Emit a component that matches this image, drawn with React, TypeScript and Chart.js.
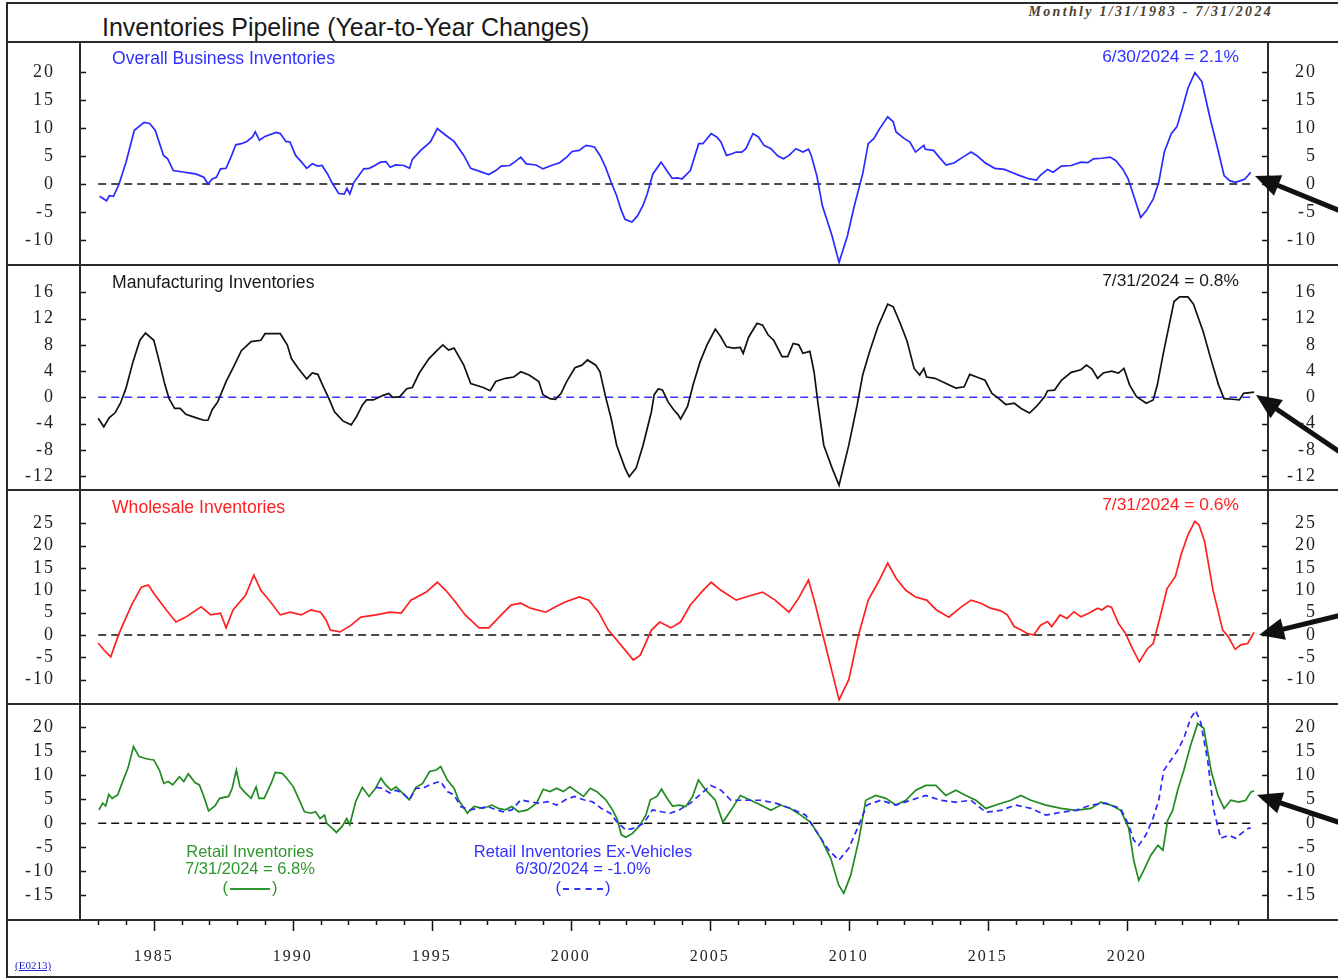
import React, { useEffect, useRef } from "react";
import { Chart, registerables } from "chart.js";
Chart.register(...registerables);

// ---------------- data (decimal year, % y/y) ----------------
const businessDates = [1983.05,1983.3,1983.4,1983.55,1983.75,1984.0,1984.3,1984.65,1984.85,1985.05,1985.35,1985.5,1985.7,1986.1,1986.25,1986.5,1986.8,1986.95,1987.1,1987.25,1987.4,1987.6,1987.8,1987.95,1988.15,1988.35,1988.55,1988.65,1988.8,1989.0,1989.4,1989.55,1989.75,1989.9,1990.1,1990.3,1990.5,1990.7,1990.9,1991.05,1991.25,1991.4,1991.65,1991.85,1991.95,1992.05,1992.2,1992.55,1992.75,1992.95,1993.15,1993.35,1993.5,1993.7,1994.0,1994.2,1994.3,1994.6,1994.95,1995.2,1995.5,1995.8,1996.15,1996.4,1996.75,1997.05,1997.3,1997.5,1997.8,1998.0,1998.2,1998.4,1998.75,1999.0,1999.3,1999.6,1999.85,2000.05,2000.3,2000.55,2000.85,2001.05,2001.25,2001.45,2001.65,2001.8,2001.95,2002.2,2002.4,2002.6,2002.75,2002.95,2003.25,2003.45,2003.65,2003.85,2004.0,2004.3,2004.6,2004.75,2005.05,2005.25,2005.4,2005.6,2005.8,2005.95,2006.15,2006.3,2006.55,2006.75,2006.95,2007.2,2007.45,2007.65,2007.85,2008.1,2008.35,2008.55,2008.65,2008.85,2009.05,2009.4,2009.65,2009.95,2010.2,2010.5,2010.7,2010.9,2011.1,2011.4,2011.6,2011.7,2012.0,2012.2,2012.4,2012.7,2012.75,2013.05,2013.25,2013.5,2013.8,2014.1,2014.4,2014.6,2014.9,2015.25,2015.6,2015.85,2016.15,2016.5,2016.75,2016.9,2017.15,2017.35,2017.65,2018.0,2018.35,2018.6,2018.8,2019.1,2019.4,2019.6,2019.85,2020.05,2020.25,2020.5,2020.7,2020.95,2021.15,2021.35,2021.6,2021.8,2022.0,2022.2,2022.45,2022.7,2023.0,2023.3,2023.5,2023.7,2023.9,2024.1,2024.25,2024.46];
const businessValues = [-2.2,-3.0,-2.1,-2.2,0,3.9,9.6,11.0,10.8,9.6,5.1,4.5,2.4,2.1,2.0,1.8,1.2,0,0.9,1.2,2.7,2.8,5.1,7.0,7.2,7.6,8.4,9.3,7.8,8.5,9.2,9.0,7.6,7.5,5.1,4.0,2.8,3.6,3.2,3.3,1.8,0.3,-1.7,-1.8,-0.8,-1.8,0.3,2.7,2.8,3.3,3.9,4.0,3.0,3.4,3.3,2.8,4.4,6.0,7.5,9.9,8.7,7.6,5.1,2.8,2.2,1.7,2.4,3.2,3.3,4.0,4.8,3.6,3.4,2.7,3.3,3.8,4.8,5.8,6.0,6.9,6.6,5.1,3.0,0.3,-2.1,-4.5,-6.3,-6.8,-5.7,-3.8,-1.8,1.8,3.9,2.4,1.0,1.1,0.9,2.4,7.2,7.2,9.0,8.4,7.5,5.1,5.4,5.7,5.7,6.3,9.0,8.4,6.9,6.3,5.0,4.5,5.1,6.3,5.7,6.2,5.1,1.5,-3.9,-9.3,-14.0,-9.3,-3.9,1.8,7.2,8.1,9.8,12.0,11.1,9.3,8.1,7.5,5.7,6.9,6.2,6.0,4.8,3.4,3.8,4.8,5.7,5.1,3.8,2.8,2.6,2.1,1.5,0.9,0.7,1.6,2.6,2.1,3.2,3.3,3.9,3.8,4.5,4.6,4.8,4.2,2.7,0.9,-2.1,-6.0,-4.8,-2.7,0.3,5.7,9.0,10.2,13.5,17.1,19.9,18.3,11.7,5.7,1.5,0.6,0.3,0.6,0.9,2.1];

const manufDates = [1983.0,1983.2,1983.4,1983.6,1983.8,1984.0,1984.25,1984.5,1984.7,1985.0,1985.2,1985.4,1985.55,1985.75,1985.95,1986.15,1986.5,1986.8,1986.95,1987.1,1987.3,1987.6,1987.9,1988.15,1988.5,1988.85,1989.0,1989.25,1989.55,1989.8,1989.95,1990.2,1990.5,1990.7,1990.9,1991.1,1991.3,1991.5,1991.8,1992.1,1992.3,1992.5,1992.65,1992.9,1993.25,1993.45,1993.6,1993.85,1994.1,1994.3,1994.55,1994.9,1995.2,1995.4,1995.6,1995.8,1996.15,1996.4,1996.85,1997.1,1997.3,1997.65,1997.95,1998.2,1998.5,1998.85,1999.0,1999.25,1999.45,1999.65,1999.85,2000.15,2000.4,2000.6,2000.9,2001.05,2001.25,2001.45,2001.65,2001.95,2002.1,2002.35,2002.6,2002.9,2003.0,2003.15,2003.3,2003.5,2003.7,2003.85,2003.95,2004.2,2004.4,2004.65,2004.9,2005.2,2005.4,2005.6,2005.85,2006.1,2006.2,2006.4,2006.7,2006.9,2007.1,2007.3,2007.6,2007.8,2008.0,2008.2,2008.35,2008.6,2008.75,2008.9,2009.1,2009.4,2009.65,2010.0,2010.3,2010.5,2010.75,2011.05,2011.4,2011.6,2011.85,2012.1,2012.35,2012.55,2012.7,2012.8,2013.1,2013.5,2013.85,2014.15,2014.35,2014.6,2014.9,2015.15,2015.4,2015.65,2015.95,2016.2,2016.5,2016.75,2017.05,2017.15,2017.4,2017.65,2018.0,2018.35,2018.55,2018.75,2018.95,2019.15,2019.45,2019.7,2019.9,2020.1,2020.35,2020.7,2020.95,2021.1,2021.3,2021.5,2021.7,2021.9,2022.2,2022.4,2022.75,2023.0,2023.3,2023.5,2023.8,2024.05,2024.2,2024.58];
const manufValues = [-3.2,-4.5,-3.1,-2.4,-0.9,1.4,5.4,8.7,9.8,8.7,5.4,1.9,-0.2,-1.7,-1.7,-2.6,-3.1,-3.5,-3.5,-1.9,-0.7,2.4,4.9,7.1,8.5,8.7,9.7,9.7,9.7,8.0,5.9,4.4,2.8,3.7,3.5,1.6,-0.2,-2.2,-3.6,-4.2,-2.9,-1.2,-0.4,-0.4,0.3,0.6,0,0.1,1.3,1.5,3.7,5.9,7.2,8.0,7.2,7.5,4.9,2.1,1.5,1.0,2.4,2.9,3.1,3.9,3.4,2.4,0.4,-0.2,-0.3,0.6,2.4,4.5,4.9,5.7,4.9,3.9,0.1,-3.2,-7.3,-10.8,-12.1,-10.8,-7.3,-2.2,0.4,1.3,1.1,-0.7,-1.9,-2.6,-3.3,-1.4,1.9,5.4,8.0,10.4,9.2,7.7,7.5,7.6,6.7,9.2,11.3,11.0,9.5,8.7,6.2,6.2,8.2,8.0,6.7,7.0,3.9,-1.2,-7.3,-10.8,-13.4,-7.3,-1.2,3.4,7.0,10.8,14.2,13.8,11.3,8.5,4.4,3.4,4.4,3.1,2.9,2.1,1.4,1.6,3.5,3.1,2.6,0.6,-0.2,-1.1,-0.9,-1.7,-2.4,-1.4,0.1,1.0,1.1,2.6,3.8,4.2,4.9,4.3,2.9,3.7,4.0,3.7,4.4,1.9,0.1,-0.9,-0.4,1.9,6.4,10.5,14.6,15.3,15.3,14.2,10.0,6.2,1.9,-0.2,-0.3,-0.4,0.6,0.8];

const wholesaleDates = [1983.0,1983.2,1983.45,1983.6,1983.8,1984.2,1984.55,1984.8,1985.05,1985.45,1985.8,1986.15,1986.7,1987.05,1987.4,1987.6,1987.85,1988.3,1988.6,1988.85,1989.2,1989.55,1989.9,1990.3,1990.65,1991.0,1991.2,1991.35,1991.7,1992.1,1992.45,1993.0,1993.5,1993.9,1994.25,1994.8,1995.2,1995.5,1995.85,1996.2,1996.7,1997.05,1997.5,1997.85,1998.2,1998.55,1999.1,1999.45,1999.8,2000.3,2000.65,2001.0,2001.35,2001.8,2002.25,2002.5,2002.9,2003.2,2003.6,2003.95,2004.3,2004.7,2005.05,2005.4,2005.95,2006.5,2006.9,2007.35,2007.85,2008.2,2008.55,2008.8,2009.2,2009.65,2010.0,2010.35,2010.7,2011.1,2011.4,2011.7,2012.05,2012.4,2012.8,2013.15,2013.6,2014.05,2014.4,2014.75,2015.1,2015.47,2015.7,2015.95,2016.2,2016.4,2016.65,2016.9,2017.15,2017.3,2017.6,2017.85,2018.1,2018.35,2018.65,2018.95,2019.1,2019.3,2019.45,2019.7,2019.95,2020.2,2020.45,2020.75,2020.95,2021.2,2021.45,2021.75,2021.95,2022.2,2022.45,2022.6,2022.8,2023.1,2023.45,2023.65,2023.9,2024.1,2024.35,2024.58];
const wholesaleValues = [-1.8,-3.3,-4.9,-2.2,1.1,6.7,10.7,11.2,8.9,5.6,2.9,4.0,6.3,4.5,4.9,1.6,5.6,8.9,13.4,10.0,7.4,4.5,5.1,4.5,5.6,5.1,3.3,1.1,0.7,2.2,4.0,4.5,5.1,4.9,7.8,9.6,11.8,10.0,7.4,4.5,1.6,1.6,4.5,6.7,7.1,6.0,5.1,6.3,7.4,8.5,7.8,5.1,1.1,-2.2,-5.6,-4.5,1.1,2.9,1.6,2.9,6.7,9.6,11.8,10.0,7.8,8.9,9.6,7.8,5.1,8.3,12.3,6.7,-3.3,-14.5,-10.0,0,7.8,12.3,16.1,12.7,10.0,8.5,7.8,5.6,4.0,6.3,7.8,7.1,6.0,5.4,4.5,1.9,1.1,0.4,0,2.2,3.0,1.9,4.5,3.7,5.2,4.1,4.9,6.0,5.6,6.5,6.2,2.6,0.4,-3.0,-6.0,-3.0,-1.9,4.1,10.4,13.1,17.9,22.4,25.4,24.6,20.9,10.1,1.1,-0.4,-3.2,-2.2,-1.9,0.6];

const retailDates = [1983.03,1983.16,1983.27,1983.38,1983.5,1983.7,1983.9,1984.07,1984.27,1984.47,1984.7,1984.88,1985.0,1985.2,1985.36,1985.52,1985.68,1985.92,1986.08,1986.24,1986.48,1986.64,1986.8,1986.97,1987.2,1987.37,1987.69,1987.82,1987.97,1988.1,1988.25,1988.5,1988.68,1988.78,1988.97,1989.22,1989.37,1989.62,1989.78,1990.02,1990.23,1990.42,1990.66,1990.82,1990.98,1991.14,1991.22,1991.41,1991.57,1991.78,1991.94,1992.05,1992.26,1992.5,1992.74,1992.98,1993.17,1993.34,1993.54,1993.71,1993.95,1994.19,1994.43,1994.67,1994.92,1995.16,1995.32,1995.56,1995.8,1995.96,1996.28,1996.52,1996.84,1997.16,1997.4,1997.64,1997.88,1998.12,1998.44,1998.77,1999.01,1999.25,1999.49,1999.73,1999.97,2000.21,2000.46,2000.7,2000.94,2001.26,2001.5,2001.66,2001.82,2001.98,2002.22,2002.46,2002.7,2002.86,2003.1,2003.26,2003.5,2003.66,2003.9,2004.14,2004.38,2004.59,2004.86,2005.2,2005.47,2005.76,2006.1,2006.47,2006.83,2007.2,2007.55,2007.9,2008.27,2008.63,2008.99,2009.35,2009.64,2009.82,2010.07,2010.36,2010.61,2010.97,2011.33,2011.69,2012.05,2012.41,2012.77,2013.13,2013.49,2013.85,2014.21,2014.57,2014.93,2015.29,2015.83,2016.19,2016.55,2017.09,2017.63,2018.17,2018.71,2019.06,2019.42,2019.78,2020.07,2020.25,2020.43,2020.61,2020.86,2021.12,2021.3,2021.47,2021.65,2021.83,2022.05,2022.3,2022.55,2022.77,2023.03,2023.28,2023.5,2023.74,2024.03,2024.28,2024.46,2024.58];
const retailValues = [2.8,4.2,3.6,6.0,5.2,5.9,9.0,11.5,16.0,13.9,13.5,13.3,13.2,11.1,8.3,8.7,8.0,9.7,8.7,10.3,8.5,8.0,5.6,2.6,3.6,5.2,5.6,7.3,11.1,7.6,6.6,5.2,7.6,5.2,5.2,8.3,10.6,10.4,9.4,7.6,4.9,2.4,2.1,2.4,1.0,1.7,0,-1.0,-1.9,-0.6,1.0,-0.3,4.5,7.5,5.6,7.3,9.4,8.0,6.9,7.6,6.3,4.9,7.5,8.3,10.8,11.1,11.8,9.0,7.3,4.9,2.1,3.5,3.1,3.8,3.1,2.8,3.5,2.4,2.8,4.2,7.1,6.6,7.3,6.6,7.6,6.6,5.6,7.3,6.6,4.9,2.8,1.0,-2.4,-2.9,-2.1,-0.6,1.7,4.9,5.6,7.1,4.9,3.6,3.8,3.5,5.6,9.0,6.9,4.8,0.2,2.7,5.8,4.8,3.8,2.7,3.8,3.1,1.7,0.2,-3.1,-7.3,-12.9,-14.6,-10.8,-3.5,4.8,5.8,5.2,3.8,4.8,6.9,7.9,7.9,5.8,6.9,5.8,4.8,3.1,3.8,4.8,5.8,4.8,3.8,3.1,2.7,3.1,4.4,3.8,2.7,-1.0,-7.7,-11.9,-9.8,-6.7,-4.6,-5.6,0.6,2.7,6.9,11.0,16.3,20.8,19.8,11.0,5.8,3.1,4.8,4.4,4.8,6.5,6.8];

const retailExVehDates = [1993.0,1993.2,1993.5,1993.7,1993.95,1994.2,1994.43,1994.67,1994.92,1995.16,1995.32,1995.56,1995.8,1996.04,1996.36,1996.68,1997.0,1997.32,1997.56,1997.88,1998.2,1998.53,1998.85,1999.17,1999.49,1999.81,2000.13,2000.46,2000.78,2001.1,2001.42,2001.66,2001.98,2002.3,2002.62,2002.94,2003.26,2003.58,2003.9,2004.3,2004.62,2005.03,2005.4,2005.76,2006.3,2006.83,2007.37,2007.9,2008.45,2008.81,2009.28,2009.64,2010.0,2010.36,2010.65,2011.15,2011.69,2012.23,2012.77,2013.31,2013.85,2014.39,2014.93,2015.47,2016.0,2016.55,2017.09,2017.63,2018.17,2018.71,2019.24,2019.78,2020.07,2020.25,2020.43,2020.68,2020.94,2021.15,2021.33,2021.58,2021.83,2022.05,2022.3,2022.48,2022.66,2022.91,2023.13,2023.38,2023.67,2023.92,2024.17,2024.39,2024.46];
const retailExVehValues = [7.5,7.3,6.3,6.9,6.3,4.9,7.3,7.3,8.0,8.5,8.7,6.6,5.9,3.5,2.8,3.1,3.5,2.8,2.4,2.8,4.9,4.5,4.2,4.5,3.8,4.9,5.6,4.9,4.5,3.1,2.1,0.3,-1.4,-1.0,0,2.8,2.4,2.1,2.8,4.2,5.8,7.9,6.9,4.8,4.8,4.8,4.2,3.1,1.7,-1.5,-5.6,-7.7,-5.2,-0.4,3.8,4.8,3.8,4.8,5.8,4.8,4.4,4.8,2.3,2.7,3.8,3.1,1.7,2.3,2.7,3.8,4.2,3.1,-0.4,-3.5,-4.6,-2.5,1.0,4.8,11.0,13.1,15.2,17.7,21.9,23.5,21.0,13.1,2.7,-3.1,-2.5,-3.1,-1.9,-1.0,-1.0];

const businessTicks = [-10, -5, 0, 5, 10, 15, 20];
const manufTicks = [-12, -8, -4, 0, 4, 8, 12, 16];
const wholesaleTicks = [-10, -5, 0, 5, 10, 15, 20, 25];
const retailTicks = [-15, -10, -5, 0, 5, 10, 15, 20];
const yearTicks = Array.from({ length: 42 }, (_, i) => 1983 + i);

const X_MIN = 1982.345;
const X_MAX = 2025.08;

const SERIF = "'Liberation Serif', 'Times New Roman', serif";
const SANS = "'Liberation Sans', Arial, sans-serif";

const toPts = (xs: number[], ys: number[]) => xs.map((x, i) => ({ x, y: ys[i] }));

const innerTicks = {
  id: "innerTicks",
  beforeDraw(chart: any) {
    // the reference's serif tick labels are set a little wide
    (chart.ctx as any).letterSpacing = "2px";
  },
  afterDraw(chart: any) {
    const { ctx, chartArea } = chart;
    (ctx as any).letterSpacing = "0px";
    const { left, right, bottom } = chartArea;
    const ys = chart.scales.y;
    ctx.save();
    ctx.strokeStyle = "#111";
    ctx.lineWidth = 1.5;
    ctx.beginPath();
    ys.ticks.forEach((t: any) => {
      const y = Math.round(ys.getPixelForValue(t.value)) + 0.5;
      ctx.moveTo(left, y);
      ctx.lineTo(left + 6, y);
      ctx.moveTo(right - 6, y);
      ctx.lineTo(right, y);
    });
    ctx.stroke();
    const xs = chart.scales.x;
    if (xs.options.display) {
      ctx.lineWidth = 1.5;
      ctx.beginPath();
      yearTicks.forEach((yr) => {
        const x = Math.round(xs.getPixelForValue(yr)) + 0.5;
        const len = yr % 5 === 0 ? 12 : 6;
        ctx.moveTo(x, bottom);
        ctx.lineTo(x, bottom + len);
      });
      ctx.stroke();
    }
    ctx.restore();
  },
};

type Series = {
  dates: number[];
  values: number[];
  color: string;
  dash?: number[];
};

type PanelProps = {
  top: number;
  height: number;
  yMin: number;
  yMax: number;
  yTicks: number[];
  series: Series[];
  zeroColor: string;
  zeroEnd: number;
  showX?: boolean;
};

const X_AXIS_H = 59;

function Panel({ top, height, yMin, yMax, yTicks, series, zeroColor, zeroEnd, showX }: PanelProps) {
  const ref = useRef<HTMLCanvasElement>(null);
  useEffect(() => {
    if (!ref.current) return;
    const tickFont = { family: SERIF, size: 18 };
    const datasets: any[] = series.map((s) => ({
      data: toPts(s.dates, s.values),
      borderColor: s.color,
      borderWidth: 1.7,
      borderDash: s.dash || [],
      pointRadius: 0,
      tension: 0,
      fill: false,
    }));
    datasets.push({
      data: toPts([1983.0, zeroEnd], [0, 0]),
      borderColor: zeroColor,
      borderWidth: 1.5,
      borderDash: [8, 5],
      pointRadius: 0,
      fill: false,
    });
    const yAxis = (pos: "left" | "right", w: number) => ({
      type: "linear",
      position: pos,
      min: yMin,
      max: yMax,
      grid: { display: false, drawTicks: false },
      border: { display: false },
      afterBuildTicks: (s: any) => {
        s.ticks = yTicks.map((v) => ({ value: v }));
      },
      afterFit: (s: any) => {
        s.width = w;
        s.paddingTop = 0;
        s.paddingBottom = 0;
      },
      ticks: {
        font: tickFont,
        color: "#222",
        padding: pos === "left" ? 25 : 0,
        crossAlign: pos === "left" ? "near" : "far",
        autoSkip: false,
        callback: (v: any) => String(v),
      },
    });
    const chart = new Chart(ref.current, {
      type: "line",
      data: { datasets },
      options: {
        animation: false,
        responsive: false,
        maintainAspectRatio: false,
        layout: { padding: 0 },
        plugins: { legend: { display: false }, tooltip: { enabled: false } },
        scales: {
          x: {
            type: "linear",
            min: X_MIN,
            max: X_MAX,
            display: !!showX,
            grid: { display: false, drawTicks: false },
            border: { display: false },
            afterBuildTicks: (s: any) => {
              s.ticks = yearTicks.map((v) => ({ value: v }));
            },
            afterFit: (s: any) => {
              s.height = showX ? X_AXIS_H : 0;
              s.paddingLeft = 0;
              s.paddingRight = 0;
            },
            ticks: {
              font: { family: SERIF, size: 16 },
              color: "#222",
              padding: 28,
              autoSkip: false,
              maxRotation: 0,
              minRotation: 0,
              callback: (v: any) => (v % 5 === 0 ? String(v) : ""),
            },
          } as any,
          y: yAxis("left", 72) as any,
          y2: yAxis("right", 49) as any,
        },
      } as any,
      plugins: [innerTicks as any],
    });
    return () => chart.destroy();
  }, []);
  const h = height + (showX ? X_AXIS_H : 0);
  return (
    <canvas
      ref={ref}
      width={1309}
      height={h}
      style={{ position: "absolute", left: 8, top, width: 1309, height: h }}
    />
  );
}

const line = (left: number, top: number, width: number, height: number) => (
  <div style={{ position: "absolute", left, top, width, height, background: "#2a2a2a" }} />
);

function Label({ text, x, y, size, color, align = "left", family = SANS, extra = {} }: any) {
  const style: any = {
    position: "absolute",
    top: y - size * 0.6,
    fontFamily: family,
    fontSize: size,
    lineHeight: `${size * 1.2}px`,
    color,
    whiteSpace: "nowrap",
    ...extra,
  };
  if (align === "left") style.left = x;
  else if (align === "right") style.right = 1338 - x;
  else {
    style.left = x - 200;
    style.width = 400;
    style.textAlign = "center";
  }
  return <div style={style}>{text}</div>;
}

const arrows = [
  { tip: [1255, 176], tail: [1350, 215] },
  { tip: [1256, 395], tail: [1350, 459] },
  { tip: [1259, 635], tail: [1350, 613] },
  { tip: [1257, 795], tail: [1350, 826] },
];

function Arrow({ tip, tail }: { tip: number[]; tail: number[] }) {
  const dx = tip[0] - tail[0];
  const dy = tip[1] - tail[1];
  const len = Math.hypot(dx, dy);
  const ux = dx / len;
  const uy = dy / len;
  const hl = 25;
  const hw = 11;
  const bx = tip[0] - ux * hl;
  const by = tip[1] - uy * hl;
  const nx = -uy;
  const ny = ux;
  const pts = `${tip[0]},${tip[1]} ${bx + nx * hw},${by + ny * hw} ${bx - nx * hw},${by - ny * hw}`;
  return (
    <g>
      <line x1={tail[0]} y1={tail[1]} x2={bx + ux * 2} y2={by + uy * 2} stroke="#111" strokeWidth={5} />
      <polygon points={pts} fill="#111" />
    </g>
  );
}

export default function App() {
  const blue = "#3030ff";
  return (
    <div style={{ position: "absolute", left: 0, top: 0, width: 1338, height: 978, background: "#fff", overflow: "hidden" }}>
      <Panel top={43} height={221} yMin={-14.29} yMax={25.18} yTicks={businessTicks}
        series={[{ dates: businessDates, values: businessValues, color: "#2a2aff" }]}
        zeroColor="#111" zeroEnd={2024.46} />
      <Panel top={266} height={223} yMin={-13.98} yMax={20.02} yTicks={manufTicks}
        series={[{ dates: manufDates, values: manufValues, color: "#111" }]}
        zeroColor="#3535ff" zeroEnd={2024.58} />
      <Panel top={491} height={212} yMin={-15.2} yMax={32.2} yTicks={wholesaleTicks}
        series={[{ dates: wholesaleDates, values: wholesaleValues, color: "#ff2020" }]}
        zeroColor="#111" zeroEnd={2024.58} />
      <Panel top={705} height={214} yMin={-19.94} yMax={24.65} yTicks={retailTicks}
        series={[
          { dates: retailExVehDates, values: retailExVehValues, color: "#2a2aff", dash: [6, 4] },
          { dates: retailDates, values: retailValues, color: "#218a21" },
        ]}
        zeroColor="#111" zeroEnd={2024.58} showX />

      {/* frame */}
      {line(6, 2, 1332, 2)}
      {line(6, 2, 2, 976)}
      {line(6, 976, 1332, 2)}
      {line(6, 41, 1332, 2)}
      {line(6, 264, 1332, 2)}
      {line(6, 489, 1332, 2)}
      {line(6, 703, 1332, 2)}
      {line(6, 919, 1332, 2)}
      {line(79, 41, 2, 880)}
      {line(1267, 41, 2, 880)}

      {/* titles */}
      <Label text="Inventories Pipeline (Year-to-Year Changes)" x={102} y={27} size={25} color="#1a1a1a" />
      <Label text="Monthly 1/31/1983 - 7/31/2024" x={1273} y={12} size={14} color="#4a3f33" align="right" family={SERIF}
        extra={{ fontWeight: "bold", fontStyle: "italic", letterSpacing: "2.3px" }} />

      <Label text="Overall Business Inventories" x={112} y={59} size={17.6} color={blue} />
      <Label text="6/30/2024 = 2.1%" x={1239} y={56} size={17.4} color={blue} align="right" />
      <Label text="Manufacturing Inventories" x={112} y={283} size={17.6} color="#1a1a1a" />
      <Label text="7/31/2024 = 0.8%" x={1239} y={280} size={17.4} color="#1a1a1a" align="right" />
      <Label text="Wholesale Inventories" x={112} y={508} size={17.6} color="#ff2020" />
      <Label text="7/31/2024 = 0.6%" x={1239} y={504} size={17.4} color="#ff2020" align="right" />

      <Label text="Retail Inventories" x={250} y={852} size={16.5} color="#2e962e" align="center" />
      <Label text="7/31/2024 = 6.8%" x={250} y={869} size={16.5} color="#2e962e" align="center" />
      <Label
        text={<span>(<span style={{ display: "inline-block", width: 40, borderTop: "2px solid #2e962e", verticalAlign: "middle", margin: "0 2px" }} />)</span>}
        x={250} y={888} size={16.5} color="#2e962e" align="center" />
      <Label text="Retail Inventories Ex-Vehicles" x={583} y={852} size={16.5} color={blue} align="center" />
      <Label text="6/30/2024 = -1.0%" x={583} y={869} size={16.5} color={blue} align="center" />
      <Label
        text={<span>(<span style={{ display: "inline-block", width: 40, borderTop: "2px dashed " + blue, verticalAlign: "middle", margin: "0 2px" }} />)</span>}
        x={583} y={888} size={16.5} color={blue} align="center" />

      <Label text="(E0213)" x={15} y={966} size={11} color="#2020cc" family={SERIF} extra={{ textDecoration: "underline" }} />

      <svg width={1338} height={978} style={{ position: "absolute", left: 0, top: 0, pointerEvents: "none" }}>
        {arrows.map((a, i) => (
          <Arrow key={i} tip={a.tip} tail={a.tail} />
        ))}
      </svg>
    </div>
  );
}
